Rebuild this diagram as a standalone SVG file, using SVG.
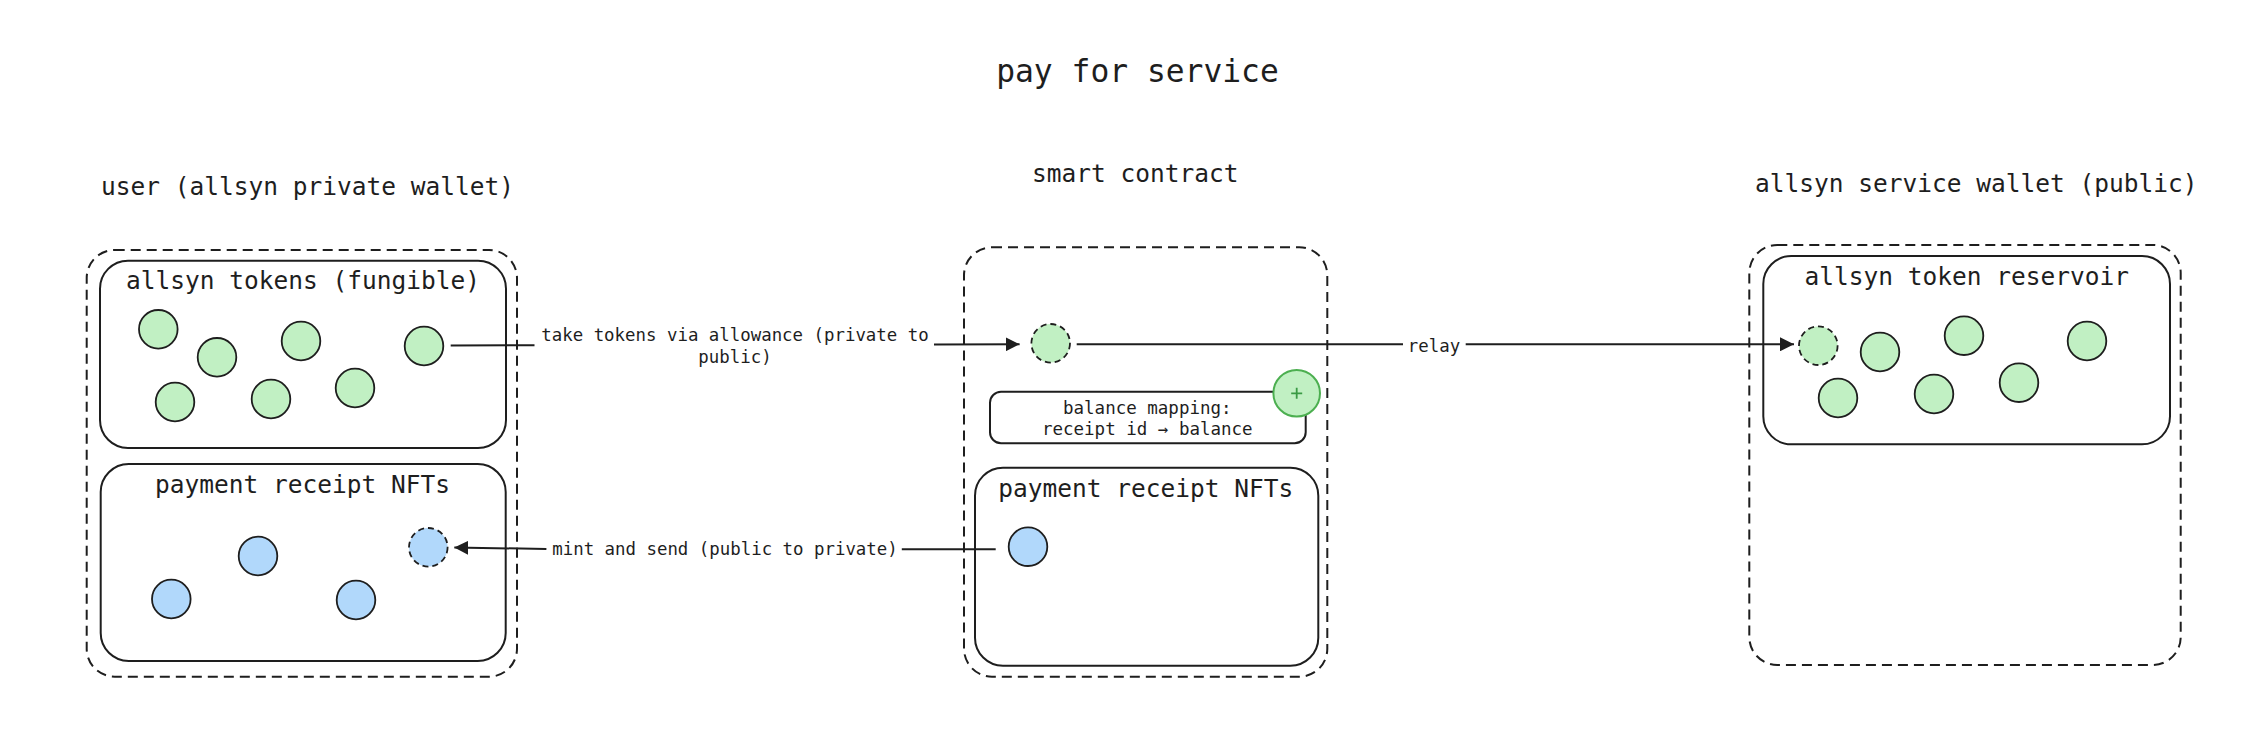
<svg xmlns="http://www.w3.org/2000/svg" width="2262" height="734" viewBox="0 0 2262 734">
<defs>
<style>
text{font-family:"DejaVu Sans Mono","Liberation Mono",monospace;fill:#1e1e1e;text-anchor:middle}
.t1{font-size:31.3px}
.t2{font-size:24.5px}
.t3{font-size:17.4px}
.t4{font-size:17.5px}
.outer{fill:none;stroke:#1e1e1e;stroke-width:2;stroke-dasharray:10 6}
.inner{fill:#fff;stroke:#1e1e1e;stroke-width:2}
.g{fill:#c1f0c3;stroke:#1e1e1e;stroke-width:1.8}
.b{fill:#b1d8fb;stroke:#1e1e1e;stroke-width:1.8}
.dash{stroke-dasharray:6 4}
.ln{fill:none;stroke:#1e1e1e;stroke-width:2}
</style>
<marker id="arr" markerWidth="14" markerHeight="14" refX="14" refY="7" orient="auto" markerUnits="userSpaceOnUse"><path d="M0,0 L14,7 L0,14 z" fill="#1e1e1e"/></marker>
</defs>
<rect width="2262" height="734" fill="#fff"/>
<g id="title"><text class="t1" x="1137.5" y="82.3">pay for service</text></g>

<g id="user-wallet">
<text class="t2" x="307.5" y="195">user (allsyn private wallet)</text>
<rect class="outer" x="86.7" y="250" width="430.3" height="426.7" rx="28"/>
</g>
<g id="user-tokens">
<rect class="inner" x="100" y="260.7" width="406" height="187.3" rx="28"/>
<text class="t2" x="303" y="289">allsyn tokens (fungible)</text>
<circle class="g" cx="158.3" cy="329.3" r="19.3"/>
<circle class="g" cx="217" cy="357.3" r="19.3"/>
<circle class="g" cx="301" cy="341" r="19.3"/>
<circle class="g" cx="424" cy="346" r="19.3"/>
<circle class="g" cx="175" cy="402" r="19.3"/>
<circle class="g" cx="271" cy="399" r="19.3"/>
<circle class="g" cx="355" cy="388" r="19.3"/>
</g>
<g id="user-nfts">
<rect class="inner" x="100.7" y="464" width="405" height="197" rx="28"/>
<text class="t2" x="302.5" y="492.7">payment receipt NFTs</text>
<circle class="b" cx="258" cy="556" r="19.3"/>
<circle class="b" cx="171.3" cy="599" r="19.3"/>
<circle class="b" cx="356" cy="600" r="19.3"/>
<circle class="b dash" cx="428.3" cy="547.3" r="19.3"/>
</g>

<g id="smart-contract">
<text class="t2" x="1135.3" y="182.3">smart contract</text>
<rect class="outer" x="964" y="247.3" width="363.3" height="429.4" rx="28"/>
<circle class="g dash" cx="1050.7" cy="343.3" r="19.3"/>
</g>
<g id="balance-mapping">
<rect class="inner" x="990" y="391.7" width="315.7" height="51.6" rx="11"/>
<text class="t4" x="1147.3" y="414">balance mapping:</text>
<text class="t4" x="1147.3" y="435">receipt id → balance</text>
<circle cx="1296.7" cy="393.3" r="23.3" fill="#c1f0c3" stroke="#4caf50" stroke-width="2"/>
<path d="M1291.2,393.3 H1302.2 M1296.7,387.8 V398.8" stroke="#3a9a44" stroke-width="1.8"/>
</g>
<g id="contract-nfts">
<rect class="inner" x="975" y="467.7" width="343.3" height="198" rx="28"/>
<text class="t2" x="1145.8" y="496.7">payment receipt NFTs</text>
<circle class="b" cx="1028" cy="546.7" r="19.3"/>
</g>

<g id="service-wallet">
<text class="t2" x="1976.2" y="192.3">allsyn service wallet (public)</text>
<rect class="outer" x="1749.3" y="245" width="431.4" height="420" rx="28"/>
</g>
<g id="reservoir">
<rect class="inner" x="1763.3" y="256" width="406.7" height="188.3" rx="28"/>
<text class="t2" x="1966.7" y="285">allsyn token reservoir</text>
<circle class="g dash" cx="1818.3" cy="345.7" r="19.3"/>
<circle class="g" cx="1880" cy="352" r="19.3"/>
<circle class="g" cx="1964" cy="335.7" r="19.3"/>
<circle class="g" cx="2087" cy="341" r="19.3"/>
<circle class="g" cx="1838" cy="398" r="19.3"/>
<circle class="g" cx="1934" cy="394" r="19.3"/>
<circle class="g" cx="2019" cy="382.7" r="19.3"/>
</g>

<g id="connectors">
<path class="ln" d="M450.7,345.5 L534.5,345.2"/>
<path class="ln" d="M934,344.6 L1019.6,344.3" marker-end="url(#arr)"/>
<text class="t3" x="735" y="341">take tokens via allowance (private to</text>
<text class="t3" x="735" y="363">public)</text>
<path class="ln" d="M1076.7,344.3 L1403,344.3"/>
<path class="ln" d="M1465.7,344.3 L1794,344.3" marker-end="url(#arr)"/>
<text class="t3" x="1434" y="351.7">relay</text>
<path class="ln" d="M995.7,549.3 L901.8,549.3"/>
<path class="ln" d="M546.4,549 L454.3,547.5" marker-end="url(#arr)"/>
<text class="t3" x="725" y="555">mint and send (public to private)</text>
</g>
</svg>
